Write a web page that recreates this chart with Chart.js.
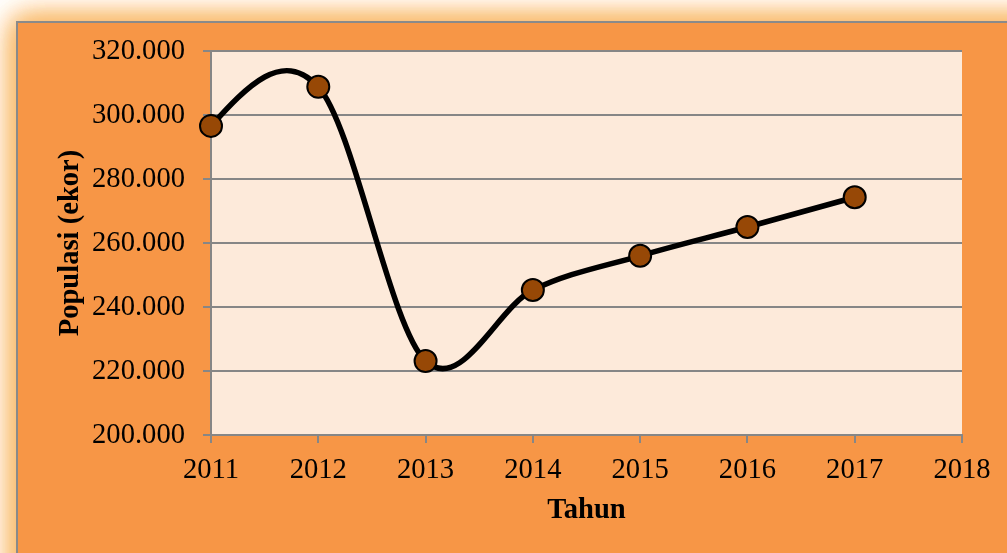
<!DOCTYPE html>
<html>
<head>
<meta charset="utf-8">
<script src="https://cdn.jsdelivr.net/npm/chart.js@4/dist/chart.umd.min.js"></script>
<style>
  html, body { margin: 0; padding: 0; background: #ffffff; }
  #wrap { width: 1007px; height: 553px; position: relative; }
</style>
</head>
<body>
<div id="wrap"><canvas id="c" width="1007" height="553"></canvas></div>
<script>
// Data
const years = [2011, 2012, 2013, 2014, 2015, 2016, 2017];
const populasi = [296600, 308800, 223100, 245300, 256000, 265000, 274300];
const yTicks = [200000, 220000, 240000, 260000, 280000, 300000, 320000];
const xTicks = [2011, 2012, 2013, 2014, 2015, 2016, 2017, 2018];
const xTitle = 'Tahun';
const yTitle = 'Populasi (ekor)';

const FONT = '"Liberation Serif", "Times New Roman", serif';
const FS = 28.6;

function fmtThousands(v) {
  return String(v).replace(/\B(?=(\d{3})+(?!\d))/g, '.');
}

const framePlugin = {
  id: 'frame',
  beforeDraw(chart) {
    const ctx = chart.ctx;
    const W = chart.width, H = chart.height;
    ctx.save();
    ctx.fillStyle = '#ffffff';
    ctx.fillRect(0, 0, W, H);
    // soft glow around the frame
    ctx.shadowColor = 'rgba(250, 188, 110, 1)';
    ctx.shadowBlur = 28;
    ctx.fillStyle = '#F79646';
    for (let k = 0; k < 3; k++) ctx.fillRect(16, 21, W + 60, H + 60);
    ctx.shadowBlur = 0;
    ctx.shadowColor = 'transparent';
    ctx.fillRect(16, 21, W + 60, H + 60);
    ctx.strokeStyle = '#8a8a8a';
    ctx.lineWidth = 2;
    ctx.strokeRect(17, 22, W + 60, H + 60);
    // plot area
    const a = chart.chartArea;
    ctx.fillStyle = '#FDEADA';
    ctx.fillRect(a.left, a.top, a.right - a.left, a.bottom - a.top);
    ctx.restore();
  }
};

// Excel-style smoothing (uniform Catmull-Rom) applied to the scale's pixel points
const smoothPlugin = {
  id: 'excelSmooth',
  beforeDatasetsDraw(chart) {
    chart.data.datasets.forEach((ds, di) => {
      const meta = chart.getDatasetMeta(di);
      const line = meta.dataset;
      const pts = meta.data;
      const n = pts.length;
      if (n < 3) return;
      const P = pts.map(p => ({ x: p.x, y: p.y }));
      const cpn = [], cpp = [];
      for (let i = 1; i < n - 1; i++) {
        const dx = (P[i + 1].x - P[i - 1].x) / 6;
        const dy = (P[i + 1].y - P[i - 1].y) / 6;
        cpp[i] = { x: P[i].x - dx, y: P[i].y - dy };
        cpn[i] = { x: P[i].x + dx, y: P[i].y + dy };
      }
      cpn[0] = { x: P[0].x + (cpp[1].x - P[0].x) / 2, y: P[0].y + (cpp[1].y - P[0].y) / 2 };
      cpp[0] = { x: P[0].x, y: P[0].y };
      cpp[n - 1] = { x: P[n - 1].x + (cpn[n - 2].x - P[n - 1].x) / 2, y: P[n - 1].y + (cpn[n - 2].y - P[n - 1].y) / 2 };
      cpn[n - 1] = { x: P[n - 1].x, y: P[n - 1].y };
      for (let i = 0; i < n; i++) {
        pts[i].cp1x = cpp[i].x; pts[i].cp1y = cpp[i].y;
        pts[i].cp2x = cpn[i].x; pts[i].cp2y = cpn[i].y;
      }
      line._pointsUpdated = true;
      delete line._path;
    });
  }
};

new Chart(document.getElementById('c'), {
  type: 'line',
  data: {
    datasets: [{
      data: years.map((y, i) => ({ x: y, y: populasi[i] })),
      borderColor: '#000000',
      borderWidth: 5.5,
      tension: 0.4,
      capBezierPoints: false,
      pointRadius: 11,
      pointHoverRadius: 11,
      pointBackgroundColor: '#974806',
      pointBorderColor: '#000000',
      pointBorderWidth: 2,
      clip: false,
      fill: false
    }]
  },
  options: {
    responsive: false,
    animation: false,
    devicePixelRatio: 1,
    layout: { padding: { top: 51, right: 45, left: 0, bottom: 0 } },
    plugins: { legend: { display: false }, tooltip: { enabled: false } },
    scales: {
      x: {
        type: 'linear',
        min: xTicks[0],
        max: xTicks[xTicks.length - 1],
        afterBuildTicks(scale) { scale.ticks = xTicks.map(v => ({ value: v })); },
        afterFit(scale) { scale.height = 118; },
        ticks: {
          callback: v => String(v),
          font: { family: FONT, size: FS },
          color: '#000000',
          padding: 10,
          maxRotation: 0,
          autoSkip: false
        },
        grid: {
          drawOnChartArea: false,
          drawTicks: true,
          tickLength: 8,
          color: '#868686',
          lineWidth: 2
        },
        border: { display: true, color: '#868686', width: 2 },
        title: {
          display: true,
          text: xTitle,
          font: { family: FONT, size: FS, weight: 'bold' },
          color: '#000000',
          padding: { top: 0, bottom: 25 }
        }
      },
      y: {
        min: yTicks[0],
        max: yTicks[yTicks.length - 1],
        afterBuildTicks(scale) { scale.ticks = yTicks.map(v => ({ value: v })); },
        afterFit(scale) { scale.width = 211; },
        ticks: {
          callback: v => fmtThousands(v),
          font: { family: FONT, size: FS },
          color: '#000000',
          padding: 18
        },
        grid: {
          drawTicks: true,
          tickLength: 8,
          color: '#868686',
          lineWidth: 2
        },
        border: { display: true, color: '#868686', width: 2 },
        title: {
          display: true,
          text: yTitle,
          font: { family: FONT, size: FS, weight: 'bold' },
          color: '#000000',
          padding: { top: 53, bottom: 0 }
        }
      }
    }
  },
  plugins: [framePlugin, smoothPlugin]
});
</script>
</body>
</html>
